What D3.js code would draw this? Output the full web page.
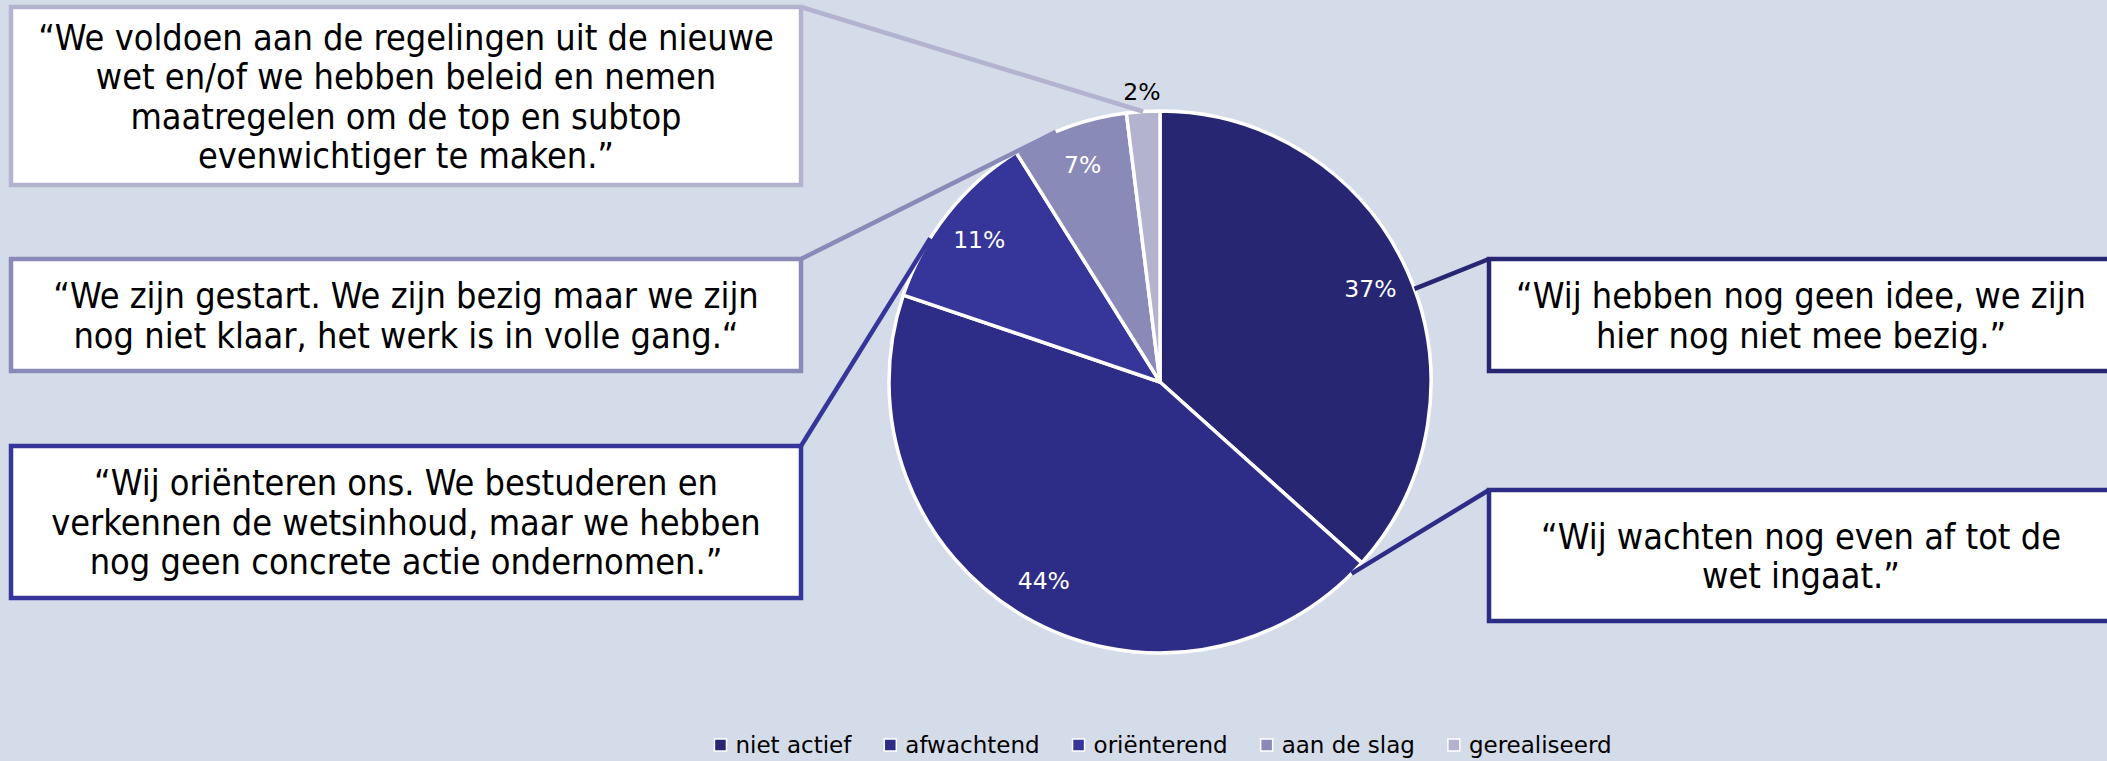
<!DOCTYPE html>
<html>
<head>
<meta charset="utf-8">
<script src="https://cdn.jsdelivr.net/npm/d3@7"></script>
<style>
  html, body { margin: 0; padding: 0; background: #d5dce9; overflow: hidden; }
  svg { display: block; }
</style>
</head>
<body>
<script>
/***** Data *****/
const categories = ["niet actief", "afwachtend", "oriënterend", "aan de slag", "gerealiseerd"];
const shares = [37, 44, 11, 7, 2];
const shareLabels = ["37%", "44%", "11%", "7%", "2%"];
const colors = ["#262673", "#2d2d87", "#35359a", "#8a8ab8", "#b3b3cf"];
const quotes = [
  ["“Wij hebben nog geen idee, we zijn", "hier nog niet mee bezig.”"],
  ["“Wij wachten nog even af tot de", "wet ingaat.”"],
  ["“Wij oriënteren ons. We bestuderen en", "verkennen de wetsinhoud, maar we hebben", "nog geen concrete actie ondernomen.”"],
  ["“We zijn gestart. We zijn bezig maar we zijn", "nog niet klaar, het werk is in volle gang.“"],
  ["“We voldoen aan de regelingen uit de nieuwe", "wet en/of we hebben beleid en nemen", "maatregelen om de top en subtop", "evenwichtiger te maken.”"]
];

/***** Configuration *****/
const width = 2107, height = 761;
const cx = 1160, cy = 382, radius = 271;

// callout boxes, one per slice (same order as categories)
const boxes = [
  { x: 1489, y: 259, w: 626, h: 112, side: "left" },
  { x: 1489, y: 490, w: 626, h: 131, side: "left" },
  { x: 11,   y: 446, w: 790, h: 152, side: "right" },
  { x: 11,   y: 259, w: 790, h: 112, side: "right" },
  { x: 11,   y: 7,   w: 790, h: 178, side: "right" }
];
// where along each slice's outer arc the leader line lands (0 = start, 1 = end)
const anchorAlong = [0.53, 0.02, 0.34, 0.38, 0.5];

const svg = d3.select("body").append("svg")
  .attr("width", width)
  .attr("height", height);

svg.append("rect").attr("width", width).attr("height", height).attr("fill", "#d5dce9");

const pie = d3.pie().sort(null).value(d => d);
const arcs = pie(shares);
const arc = d3.arc().innerRadius(0).outerRadius(radius);

const pieGroup = svg.append("g").attr("transform", `translate(${cx},${cy})`);

/***** Slices *****/
pieGroup.selectAll("path.slice")
  .data(arcs)
  .join("path")
  .attr("class", "slice")
  .attr("d", arc)
  .attr("fill", (d, i) => colors[i])
  .attr("stroke", "#ffffff")
  .attr("stroke-width", 3.5)
  .attr("stroke-linejoin", "round");

/***** Leader lines *****/
function arcPoint(angle, r) {
  return [cx + r * Math.sin(angle), cy - r * Math.cos(angle)];
}
const leaders = svg.append("g");
arcs.forEach((d, i) => {
  const b = boxes[i];
  const a = d.startAngle + (d.endAngle - d.startAngle) * anchorAlong[i];
  const p = arcPoint(a, radius);
  const q = [b.side === "left" ? b.x : b.x + b.w, b.y];
  leaders.append("line")
    .attr("x1", q[0]).attr("y1", q[1])
    .attr("x2", p[0]).attr("y2", p[1])
    .attr("stroke", colors[i])
    .attr("stroke-width", 4.5);
});

/***** Percentage labels *****/
const inArc = d3.arc().innerRadius(radius * 0.85).outerRadius(radius * 0.85);
const outArc = d3.arc().innerRadius(radius * 1.075).outerRadius(radius * 1.075);
pieGroup.selectAll("text.pct")
  .data(arcs)
  .join("text")
  .attr("class", "pct")
  .attr("transform", d => `translate(${(d.data < 5 ? outArc : inArc).centroid(d)})`)
  .attr("text-anchor", "middle")
  .attr("dy", "0.36em")
  .attr("font-family", "'DejaVu Sans', Verdana, sans-serif")
  .attr("font-size", 23.5)
  .attr("fill", d => d.data < 5 ? "#000000" : "#ffffff")
  .text((d, i) => shareLabels[i]);

/***** Callout boxes *****/
const lineHeight = 39.5;
const boxGroup = svg.append("g");
boxes.forEach((b, i) => {
  const g = boxGroup.append("g");
  g.append("rect")
    .attr("x", b.x).attr("y", b.y)
    .attr("width", b.w).attr("height", b.h)
    .attr("fill", "#ffffff")
    .attr("stroke", colors[i])
    .attr("stroke-width", 4.5);
  const lines = quotes[i];
  const mid = b.y + b.h / 2;
  const tx = (b.side === "left") ? b.x + 312 : b.x + b.w / 2;
  const t = g.append("text")
    .attr("text-anchor", "middle")
    .attr("font-family", "'DejaVu Sans Condensed', 'DejaVu Sans', sans-serif")
    .attr("font-stretch", "condensed")
    .attr("font-size", 35.8)
    .attr("fill", "#000000");
  lines.forEach((ln, k) => {
    t.append("tspan")
      .attr("x", tx)
      .attr("y", mid + (k - (lines.length - 1) / 2) * lineHeight)
      .attr("dy", "0.36em")
      .text(ln);
  });
});

/***** Legend *****/
const legend = svg.append("g");
const legendY = 745, sw = 12, textGap = 9, itemGap = 33;
const items = categories.map((c, i) => {
  const g = legend.append("g");
  g.append("rect")
    .attr("width", sw).attr("height", sw)
    .attr("y", -sw / 2)
    .attr("fill", colors[i])
    .attr("stroke", "#ffffff")
    .attr("stroke-width", 1.5);
  const t = g.append("text")
    .attr("x", sw + textGap)
    .attr("dy", "0.36em")
    .attr("font-family", "'DejaVu Sans', Verdana, sans-serif")
    .attr("font-size", 23)
    .attr("fill", "#000000")
    .text(c);
  return { g, w: sw + textGap + t.node().getComputedTextLength() };
});
const total = d3.sum(items, d => d.w) + itemGap * (items.length - 1);
let lx = cx + 3 - total / 2;
items.forEach(it => {
  it.g.attr("transform", `translate(${lx},${legendY})`);
  lx += it.w + itemGap;
});
</script>
</body>
</html>
